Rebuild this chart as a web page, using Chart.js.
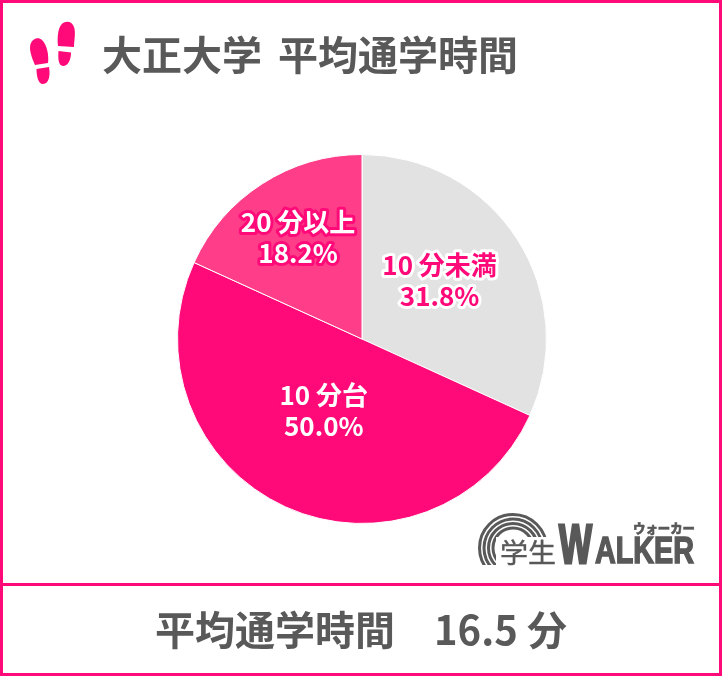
<!DOCTYPE html>
<html lang="ja">
<head>
<meta charset="utf-8">
<title>大正大学 平均通学時間</title>
<script src="https://cdn.jsdelivr.net/npm/chart.js@4"></script>
<style>
html, body { margin: 0; padding: 0; background: #fff; }
#page { position: relative; width: 722px; height: 676px; overflow: hidden; font-family: "Noto Sans CJK JP", sans-serif; }
#frame { position: absolute; left: 0; top: 0; width: 716px; height: 670px; border: 3px solid #ff0a78; }
#rule { position: absolute; left: 0; top: 583px; width: 722px; height: 3px; background: #ff0a78; }
.big { position: absolute; font-size: 40px; line-height: 54px; font-weight: 700; color: #595959; white-space: pre; }
#chartbox { position: absolute; left: 162px; top: 139px; width: 400px; height: 400px; }
svg { position: absolute; left: 0; top: 0; }
</style>
</head>
<body>
<div id="page">
  <div id="chartbox"><canvas id="pie" width="400" height="400"></canvas></div>
  <svg width="722" height="676">
    <!-- empreintes -->
    <g fill="#ff0a78">
      <path d="M35 65 C31 56 29 49 30.500 44 C32 39 38 36 42 40 C47 45 49 55 48 63 Z"/>
      <path d="M36.500 69 L49 67 C50.500 75 49 84 43 84 C38 84 36.500 76 36.500 69 Z"/>
      <path d="M58 46 C57 38 58 29 61 25 C65 20 72 21 74 27 C76 33 74 41 74 47 Z"/>
      <path d="M58.500 51 L71 52.500 C71 60 68 66 63 66 C58 66 58 57 58.500 51 Z"/>
    </g>
    <!-- logo -->
    <g fill="none" stroke="#595959" stroke-width="3">
      <circle cx="513" cy="548" r="33.500"/>
      <circle cx="513" cy="548" r="29"/>
      <circle cx="513" cy="548" r="24.500"/>
      <circle cx="513" cy="548" r="20"/>
    </g>
    <rect x="470" y="565" width="90" height="18" fill="#fff"/>
    <rect x="496" y="537" width="62" height="28" fill="#fff"/>
    <text x="500" y="563" font-size="27" fill="#595959" stroke="#595959" stroke-width="0.400" textLength="56" lengthAdjust="spacingAndGlyphs">学生</text>
    <g font-family="Liberation Sans" font-weight="700" fill="#595959" stroke="#595959">
      <text x="559" y="563" font-size="56" stroke-width="3" textLength="33" lengthAdjust="spacingAndGlyphs">W</text>
      <text x="595" y="563" font-size="36" stroke-width="1.500" textLength="99" lengthAdjust="spacingAndGlyphs">ALKER</text>
    </g>
    <text x="633" y="533" font-size="13" font-weight="900" fill="#595959" stroke="#595959" stroke-width="0.500" textLength="62" lengthAdjust="spacingAndGlyphs">ウォーカー</text>
  </svg>
  <div class="big" style="left:102px;top:26px">大正大学</div>
  <div class="big" style="left:278px;top:26px">平均通学時間</div>
  <div class="big" style="left:155px;top:601px">平均通学時間</div>
  <div class="big" style="left:434px;top:601px">16.5 分</div>
  <div id="frame"></div>
  <div id="rule"></div>
</div>
<script>
const categories = ["10 分未満", "10 分台", "20 分以上"];
const shares = [31.8, 50.0, 18.2];
const sliceColors = ["#e2e2e2", "#ff0a78", "#ff3d88"];

// texte sur les parts : décalage par rapport au centre de la part
const labelShift = [[0, -8], [0, -12], [-14, -24]];
const labelFill = ["#ff0a78", "#ffffff", "#ffffff"];
const labelHalo = ["#ffffff", "#ff0a78", "#ff0a78"];

const sliceLabels = {
    id: "sliceLabels",
    afterDatasetsDraw(chart) {
        const ctx = chart.ctx;
        chart.getDatasetMeta(0).data.forEach(function (arc, i) {
            const c = arc.getCenterPoint();
            const x = c.x + labelShift[i][0];
            const y = c.y + labelShift[i][1];
            const lines = [categories[i], shares[i].toFixed(1) + "%"];
            ctx.save();
            ctx.font = '700 26px "Noto Sans CJK JP"';
            ctx.textAlign = "center";
            ctx.textBaseline = "middle";
            ctx.lineJoin = "round";
            lines.forEach(function (t, k) {
                const ly = y + (k - 0.5) * 31;
                ctx.lineWidth = 6;
                ctx.strokeStyle = labelHalo[i];
                ctx.strokeText(t, x, ly);
                ctx.fillStyle = labelFill[i];
                ctx.fillText(t, x, ly);
            });
            ctx.restore();
        });
    }
};

new Chart(document.getElementById("pie"), {
    type: "pie",
    data: {
        labels: categories,
        datasets: [{
            data: shares,
            backgroundColor: sliceColors,
            borderColor: "#ffffff",
            borderWidth: 1
        }]
    },
    options: {
        responsive: false,
        animation: false,
        layout: { padding: 15 },
        plugins: {
            legend: { display: false },
            tooltip: { enabled: false }
        }
    },
    plugins: [sliceLabels]
});
</script>
</body>
</html>
